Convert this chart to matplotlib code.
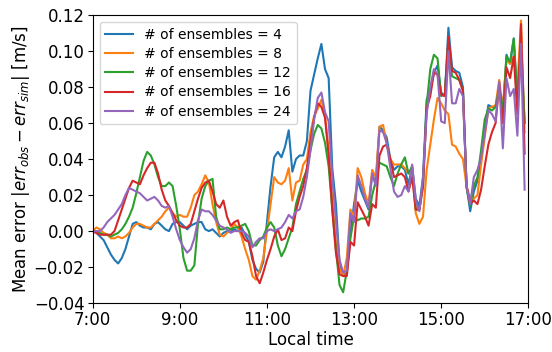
import numpy as np
import matplotlib
matplotlib.use("Agg")
import matplotlib.pyplot as plt
from matplotlib.ticker import FuncFormatter

# mean error every 5 min from 7:00
err_4 = [0.000, -0.001, -0.003, -0.005, -0.009, -0.013, -0.016, -0.018, -0.015, -0.010,
         -0.003, 0.004, 0.005, 0.003, 0.002, 0.002, 0.001, 0.004, 0.005, 0.003,
         0.001, 0.000, 0.004, 0.005, 0.005, 0.003, 0.001, 0.003, 0.004, 0.005,
         0.005, 0.001, 0.000, 0.001, -0.001, -0.003, -0.001, 0.000, 0.000, 0.001,
         0.000, 0.002, -0.002, -0.006, -0.016, -0.021, -0.023, -0.017, 0.005, 0.025,
         0.041, 0.044, 0.041, 0.047, 0.056, 0.033, 0.040, 0.042, 0.042, 0.050,
         0.078, 0.087, 0.096, 0.104, 0.090, 0.085, 0.035, 0.015, -0.018, -0.024,
         -0.024, -0.001, 0.015, 0.028, 0.022, 0.017, 0.012, 0.032, 0.026, 0.058,
         0.056, 0.052, 0.040, 0.034, 0.036, 0.036, 0.034, 0.026, 0.036, 0.018,
         0.014, 0.030, 0.073, 0.078, 0.088, 0.092, 0.077, 0.075, 0.113, 0.091,
         0.089, 0.088, 0.080, 0.025, 0.011, 0.022, 0.028, 0.040, 0.057, 0.070,
         0.069, 0.069, 0.080, 0.064, 0.098, 0.093, 0.107, 0.070, 0.106, 0.060]
err_8 = [0.000, 0.002, 0.001, -0.001, -0.002, -0.004, -0.004, -0.003, -0.004, -0.003,
         -0.001, 0.002, 0.004, 0.004, 0.003, 0.002, 0.002, 0.004, 0.006, 0.008,
         0.011, 0.013, 0.010, 0.008, 0.009, 0.008, 0.008, 0.013, 0.020, 0.022,
         0.026, 0.031, 0.027, 0.015, 0.005, -0.002, -0.003, -0.001, 0.001, 0.004,
         0.002, -0.003, -0.010, -0.016, -0.025, -0.027, -0.022, -0.015, 0.000, 0.015,
         0.030, 0.027, 0.026, 0.028, 0.035, 0.017, 0.027, 0.028, 0.037, 0.040,
         0.055, 0.064, 0.068, 0.073, 0.064, 0.045, 0.018, -0.006, -0.021, -0.025,
         -0.015, 0.012, 0.008, 0.035, 0.030, 0.021, 0.015, 0.034, 0.030, 0.058,
         0.059, 0.048, 0.040, 0.037, 0.037, 0.037, 0.035, 0.032, 0.034, 0.010,
         0.004, 0.008, 0.034, 0.048, 0.062, 0.074, 0.071, 0.067, 0.065, 0.048,
         0.047, 0.043, 0.040, 0.025, 0.018, 0.018, 0.020, 0.037, 0.052, 0.068,
         0.069, 0.070, 0.084, 0.068, 0.095, 0.093, 0.097, 0.080, 0.117, 0.055]
err_12 = [0.000, 0.000, -0.001, -0.002, -0.002, -0.003, -0.002, -0.001, 0.001, 0.004,
          0.008, 0.013, 0.021, 0.030, 0.039, 0.044, 0.042, 0.037, 0.030, 0.025,
          0.025, 0.027, 0.025, 0.014, 0.001, -0.015, -0.022, -0.022, -0.019, 0.004,
          0.018, 0.025, 0.028, 0.029, 0.008, 0.001, 0.001, 0.002, 0.001, 0.002,
          0.002, 0.003, 0.004, 0.000, -0.008, -0.008, -0.005, -0.003, 0.002, 0.005,
          0.002, -0.008, -0.014, -0.010, -0.004, 0.002, 0.015, 0.022, 0.029, 0.034,
          0.045, 0.054, 0.059, 0.057, 0.049, 0.036, 0.012, -0.010, -0.030, -0.034,
          -0.022, -0.004, 0.008, 0.006, 0.007, 0.007, 0.008, 0.020, 0.028, 0.038,
          0.037, 0.036, 0.030, 0.025, 0.032, 0.037, 0.041, 0.032, 0.036, 0.012,
          0.012, 0.025, 0.070, 0.090, 0.098, 0.096, 0.075, 0.076, 0.105, 0.086,
          0.085, 0.084, 0.078, 0.024, 0.014, 0.025, 0.030, 0.045, 0.062, 0.068,
          0.067, 0.069, 0.080, 0.066, 0.097, 0.094, 0.107, 0.075, 0.100, 0.060]
err_16 = [0.000, -0.001, -0.002, -0.002, -0.002, -0.002, 0.000, 0.006, 0.012, 0.018,
          0.024, 0.028, 0.027, 0.026, 0.031, 0.035, 0.038, 0.038, 0.032, 0.023,
          0.017, 0.014, 0.010, 0.006, 0.003, 0.002, 0.002, 0.004, 0.011, 0.018,
          0.024, 0.027, 0.028, 0.022, 0.015, 0.013, 0.017, 0.008, 0.003, 0.005,
          0.006, -0.001, -0.005, -0.006, -0.014, -0.025, -0.029, -0.023, -0.016, -0.010,
          -0.003, 0.001, -0.005, -0.004, 0.002, 0.000, 0.011, 0.019, 0.025, 0.035,
          0.050, 0.063, 0.071, 0.069, 0.063, 0.042, 0.012, -0.012, -0.024, -0.025,
          -0.025, -0.006, -0.008, 0.016, 0.012, 0.008, 0.003, 0.015, 0.013, 0.042,
          0.047, 0.048, 0.040, 0.030, 0.031, 0.032, 0.030, 0.022, 0.030, 0.012,
          0.012, 0.025, 0.068, 0.075, 0.088, 0.087, 0.076, 0.075, 0.108, 0.089,
          0.088, 0.084, 0.078, 0.025, 0.015, 0.017, 0.015, 0.023, 0.036, 0.048,
          0.055, 0.060, 0.082, 0.060, 0.091, 0.085, 0.097, 0.065, 0.115, 0.043]
err_24 = [0.000, 0.000, 0.000, 0.002, 0.005, 0.007, 0.009, 0.012, 0.015, 0.020,
          0.024, 0.023, 0.022, 0.021, 0.019, 0.017, 0.018, 0.019, 0.017, 0.014,
          0.013, 0.014, 0.008, 0.001, -0.005, -0.009, -0.012, -0.010, -0.004, 0.006,
          0.012, 0.011, 0.011, 0.009, 0.006, 0.003, 0.002, 0.001, -0.001, 0.000,
          0.000, 0.000, -0.001, -0.003, -0.009, -0.006, -0.004, -0.004, 0.000, 0.001,
          0.000, 0.001, 0.002, 0.005, 0.009, 0.007, 0.011, 0.012, 0.019, 0.030,
          0.045, 0.062, 0.074, 0.077, 0.066, 0.061, 0.030, 0.006, -0.016, -0.023,
          -0.022, 0.010, 0.005, 0.031, 0.025, 0.018, 0.013, 0.032, 0.025, 0.056,
          0.055, 0.049, 0.035, 0.022, 0.019, 0.020, 0.025, 0.022, 0.037, 0.017,
          0.011, 0.030, 0.065, 0.080, 0.090, 0.087, 0.061, 0.060, 0.100, 0.071,
          0.071, 0.079, 0.075, 0.025, 0.015, 0.030, 0.034, 0.041, 0.054, 0.067,
          0.065, 0.061, 0.083, 0.046, 0.085, 0.075, 0.079, 0.053, 0.104, 0.023]

ensembles = [4, 8, 12, 16, 24]
series = [err_4, err_8, err_12, err_16, err_24]

hours = 7 + np.arange(len(err_4)) * 5 / 60

fig, ax = plt.subplots(figsize=(5.52, 3.52), dpi=100)
for n, y in zip(ensembles, series):
    ax.plot(hours, y, label="# of ensembles = %d" % n)

ax.set_xlim(7, 17)
ax.set_ylim(-0.04, 0.12)
ax.set_xticks(np.arange(7, 18, 2))
ax.xaxis.set_major_formatter(FuncFormatter(lambda h, p: "%d:00" % h))
ax.set_yticks(np.arange(-0.04, 0.1201, 0.02))
ax.yaxis.set_major_formatter(FuncFormatter(lambda v, p: ("%.2f" % v).replace("-", "\u2212")))
ax.tick_params(labelsize=12, pad=2.5)
ax.set_xlabel("Local time", fontsize=12, labelpad=1.5)
ax.set_ylabel(r"Mean error $|err_{obs}-err_{sim}|$ [m/s]", fontsize=12, labelpad=1.5)
ax.legend(loc="upper left", fontsize=10, labelspacing=0.38)

fig.subplots_adjust(left=0.168, right=0.957, top=0.957, bottom=0.139)
fig.savefig("out.png")
